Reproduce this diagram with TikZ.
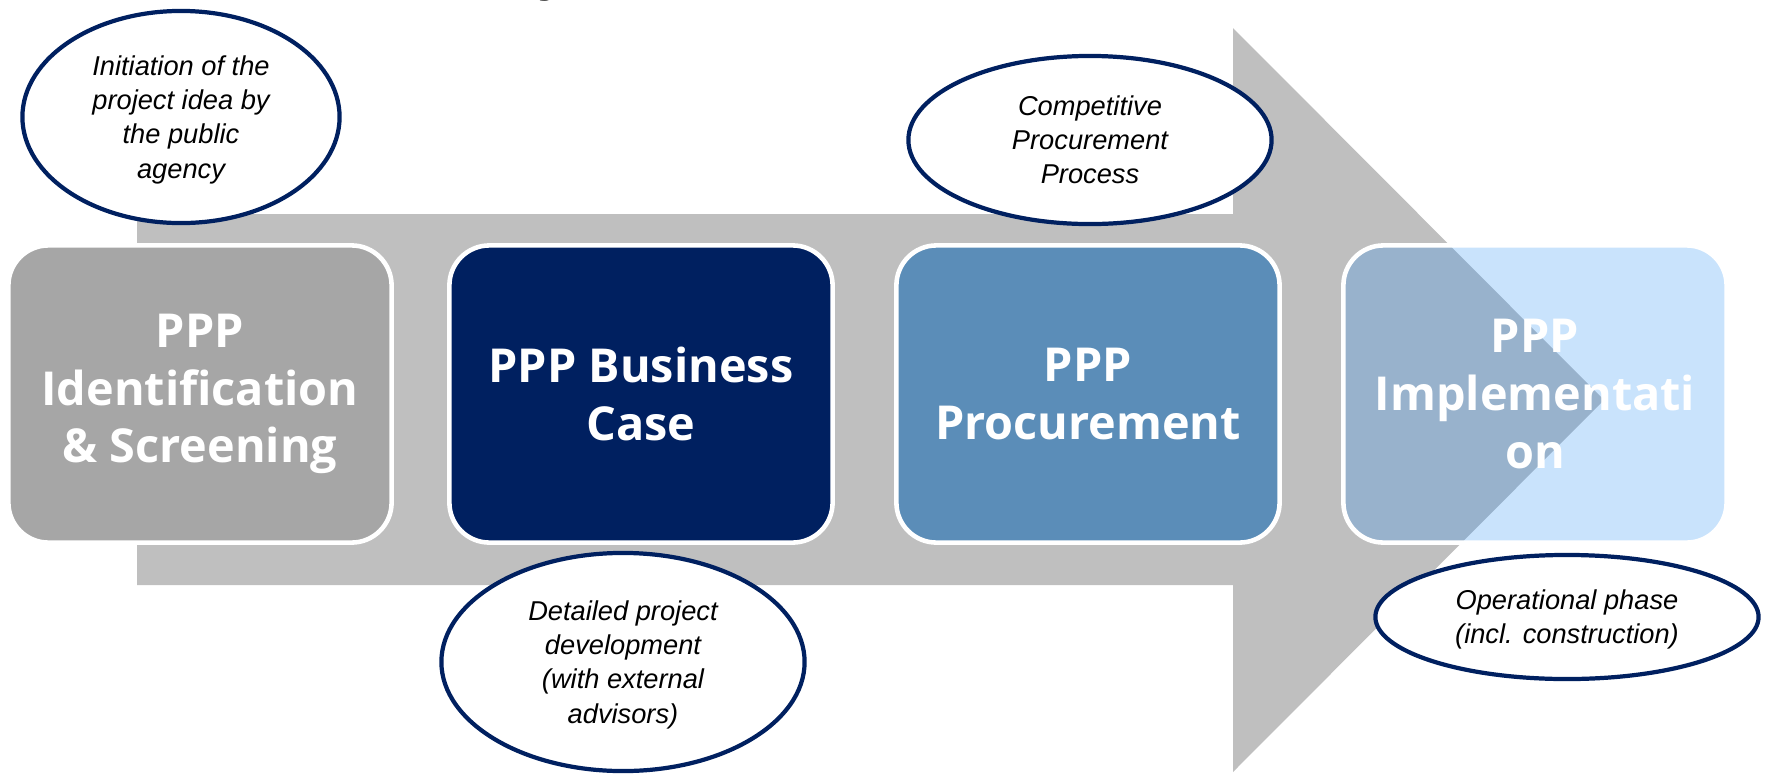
\documentclass[tikz,border=0pt]{standalone}
\usepackage{fontspec}
\setmainfont{Liberation Sans}
\newfontfamily\boxfont{Open Sans}
\usetikzlibrary{shapes.geometric}

\definecolor{arrowgray}{RGB}{191,191,191}
\definecolor{navy}{RGB}{0,32,96}
\definecolor{stagegray}{RGB}{166,166,166}
\definecolor{stageblue}{RGB}{91,141,184}
\definecolor{stagelight}{RGB}{39,143,243}

\tikzset{
    stage/.style={rounded corners=0.4cm, draw=white, line width=1.3pt,
        minimum width=3.83cm, minimum height=2.97cm, inner sep=0pt,
        align=center, text=white,
        font=\boxfont\bfseries\fontsize{13.3}{16.4}\selectfont},
    bubble/.style={ellipse, draw=navy, line width=1.2pt, fill=white,
        inner sep=0pt, align=center, text depth=-1.2pt,
        font=\itshape\fontsize{7.75}{9.7}\selectfont},
}

\begin{document}
\begin{tikzpicture}[x=0.01cm,y=-0.01cm]
        \useasboundingbox (0,0) rectangle (1765,775);
        \node[anchor=base, font=\bfseries\fontsize{16}{18}\selectfont] (titletail) at (553,-11) {y};
        \fill[arrowgray] (137,214) -- (1233,214) -- (1233,28) -- (1604,400)
            -- (1233,772) -- (1233,585) -- (137,585) -- cycle;
        \node[stage, fill=stagegray] (ident) at (200,394) {PPP\\Identification\\\& Screening};
        \node[stage, fill=navy] (busi) at (641,394) {PPP Business\\Case};
        \node[stage, fill=stageblue] (procu) at (1088,394) {PPP\\Procurement};
        \node[stage, fill=stagelight, fill opacity=0.25, text opacity=1, draw opacity=1] (impl) at (1535,394) {PPP\\Implementati\\on};
        \node[bubble, minimum width=3.17cm, minimum height=2.12cm] (initiation) at (181,117)
            {Initiation of the\\project idea by\\the public\\agency};
        \node[bubble, minimum width=3.63cm, minimum height=2.18cm] (detailed) at (623,662)
            {Detailed project\\development\\(with external\\advisors)};
        \node[bubble, minimum width=3.63cm, minimum height=1.68cm] (competitive) at (1090,140)
            {Competitive\\Procurement\\Process};
        \node[bubble, minimum width=3.83cm, minimum height=1.24cm] (operational) at (1567,617)
            {Operational phase\\(incl. construction)};
    \end{tikzpicture}
\end{document}
